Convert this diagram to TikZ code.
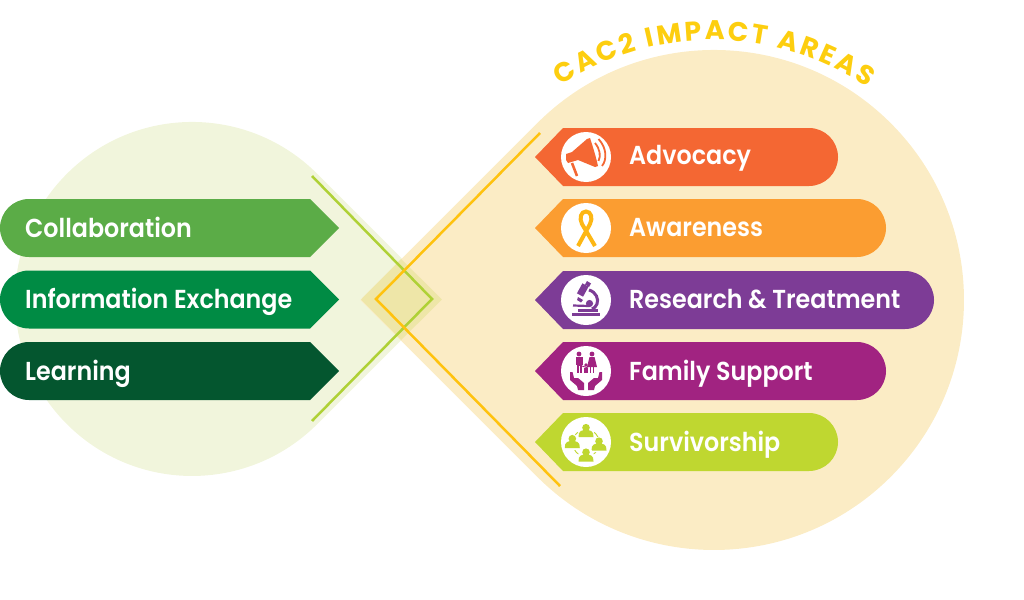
\documentclass[tikz,border=0pt]{standalone}
\usepackage{fontspec}
\usetikzlibrary{decorations.text}
\setmainfont[FakeStretch=0.915]{Poppins SemiBold}
\newfontfamily\titlefont{Poppins Bold}
\definecolor{lightgreen}{HTML}{F1F5DC}
\definecolor{lightyellow}{HTML}{FBECC5}
\definecolor{overlapcol}{HTML}{EEE6A8}
\definecolor{lineyellow}{HTML}{FFC20E}
\definecolor{linegreen}{HTML}{AFD136}
\definecolor{titlecol}{HTML}{FDCE0F}
\definecolor{collab}{HTML}{5BAC47}
\definecolor{info}{HTML}{008B44}
\definecolor{learn}{HTML}{04562F}
\definecolor{advoc}{HTML}{F46733}
\definecolor{aware}{HTML}{FB9D31}
\definecolor{resea}{HTML}{7D3C96}
\definecolor{famil}{HTML}{A12381}
\definecolor{survi}{HTML}{BFD730}
\definecolor{ribbon}{HTML}{FDB714}
\tikzset{
  flagtext/.style={text=white, font=\fontsize{26}{26}\selectfont, anchor=base west, inner sep=0pt},
  person/.pic={
    \fill[white] (0,1) circle (8);
    \fill (0,-2.8) circle (3.8);
    \fill (-7.5,6.5) .. controls (-8,0) and (-3.5,-0.5) .. (0,-0.5) .. controls (3.5,-0.5) and (8,0) .. (7.5,6.5) -- cycle;
  },
}
% top edge, colour
\newcommand{\leftflag}[2]{\fill[#2] (29,#1) arc (270:90:29) -- (310,#1+58) -- (339,#1+29) -- (310,#1) -- cycle;}
% top edge, right end, colour
\newcommand{\rightflag}[3]{\fill[#3] (563,#1) -- (#2-29,#1) arc (-90:90:29) -- (563,#1+58) -- (535,#1+29) -- cycle;
  \fill[white] (586,#1+29) circle (25);}
\begin{document}
\begin{tikzpicture}[x=1pt,y=-1pt]
\useasboundingbox (0,0) rectangle (1024,599);
% background drops
\fill[lightgreen] (317.2,173.8) arc (-45:-315:177) -- (442.3,299) -- cycle;
\fill[lightyellow] (537.2,123.2) arc (-135:135:250) -- (360.4,300) -- cycle;
\fill[overlapcol] (361,299.5) -- (401.2,259) -- (441.8,299.5) -- (401.2,340) -- cycle;
% crossing lines
\coordinate (G1) at (312,176);
\coordinate (G2) at (432,299);
\coordinate (G3) at (312,421);
\coordinate (Y1) at (540,133);
\coordinate (Y2) at (376,299);
\coordinate (Y3) at (560,486);
\draw[linegreen, line width=2.5pt] (G1) -- (G2) -- (G3);
\draw[lineyellow, line width=2.5pt] (Y1) -- (Y2) -- (Y3);
% left flags
\leftflag{199}{collab}
\leftflag{270.5}{info}
\leftflag{342}{learn}
\node[flagtext] (C) at (25,237) {Collaboration};
\node[flagtext] (I) at (25,308.5) {Information Exchange};
\node[flagtext] (L) at (25,380) {Learning};
% right flags
\rightflag{128}{838}{advoc}
\rightflag{199}{886}{aware}
\rightflag{271}{934}{resea}
\rightflag{342}{886}{famil}
\rightflag{413}{838}{survi}
\node[flagtext] (A) at (629,164) {Advocacy};
\node[flagtext] (W) at (629,236) {Awareness};
\node[flagtext] (R) at (629,308) {Research \& Treatment};
\node[flagtext] (F) at (629,380) {Family Support};
\node[flagtext] (S) at (629,451) {Survivorship};
% megaphone
\begin{scope}[shift={(586,157)}, advoc]
\fill (-20,-3) -- (-14,-5) -- (1,-18) -- (4,-19) .. controls (7,-10) and (10,0) .. (12,9) -- (9,10) -- (-8,3) -- (-18,6) -- (-20,3) -- cycle;
\draw[line width=2.6pt] (-14,6) -- (-9,19);
\draw[line width=1.8pt] (9,-14) .. controls (14,-8) and (15,-1) .. (12.5,4);
\draw[line width=1.8pt] (12.5,-18) .. controls (21,-9) and (21,3) .. (16,9);
\end{scope}
% ribbon
\begin{scope}[shift={(586,228)}, ribbon]
\draw[line width=4pt] (-8,18) -- (4,-4) .. controls (7,-10) and (5,-16.5) .. (0,-16.5) .. controls (-5,-16.5) and (-7,-10) .. (-4,-4) -- (9,18);
\end{scope}
% microscope
\begin{scope}[shift={(586,300)}, resea]
\draw[line width=7pt] (-0.5,-15) -- (-6,-5);
\fill (1,-19) -- (5,-16.5) -- (3,-13) -- (-1,-15.5) -- cycle;
\fill (-8,-3) -- (-3,0) -- (-5,2.5) -- (-9,0) -- cycle;
\draw[line width=3pt] (3,-10) .. controls (10,-8) and (13,-1) .. (11,4) .. controls (10,7) and (8,8) .. (6,9);
\draw[line width=2.2pt] (-13,5.5) -- (3,6);
\fill (-8,9) -- (12,9) -- (12,12) -- (-8,12) -- cycle;
\fill (3.5,3.5) circle (3.6);
\draw[line width=2.2pt] (-14,14.5) -- (14,14.5);
\end{scope}
% family in hands
\begin{scope}[shift={(586,371)}, famil]
\fill (-7,-17) circle (2.4);
\fill (-10.5,-14) rectangle (-3.5,-6);
\fill (-9.5,-6) rectangle (-4.5,2);
\fill[white] (-7.3,-5) rectangle (-6.7,2);
\fill (6,-17) circle (2.4);
\fill (3.5,-14) -- (8.5,-14) -- (11,-4) -- (1,-4) -- cycle;
\fill (3.6,-4) rectangle (5.3,2);
\fill (6.7,-4) rectangle (8.4,2);
\fill (0,-6) circle (1.8);
\fill (-1.6,-3.5) rectangle (1.6,2);
\draw[line width=0.8pt] (-4,-5) -- (2,-3);
\fill (-16,1) -- (-13.5,1) -- (-12,7) -- (-8,7) -- (-2,12) -- (-2,19) -- (-8,19) -- (-9,15) -- (-16,9) -- cycle;
\fill (16,1) -- (13.5,1) -- (12,7) -- (8,7) -- (2,12) -- (2,19) -- (8,19) -- (9,15) -- (16,9) -- cycle;
\end{scope}
% people in a ring
\begin{scope}[shift={(586,442)}, survi]
\draw[line width=0.9pt] (0,1) circle (13.5);
\pic at (0,-11.5) {person};
\pic at (-13.7,-0.5) {person};
\pic at (13,2) {person};
\pic at (0,13) {person};
\end{scope}
% curved title
\path[decorate, decoration={text along path, text color=titlecol, text align={fit to path},
  text={|\titlefont\fontsize{27}{27}\selectfont|CAC2 IMPACT AREAS}}]
  (561,86) arc (-123.7:-55.8:274);
\end{tikzpicture}
\end{document}
